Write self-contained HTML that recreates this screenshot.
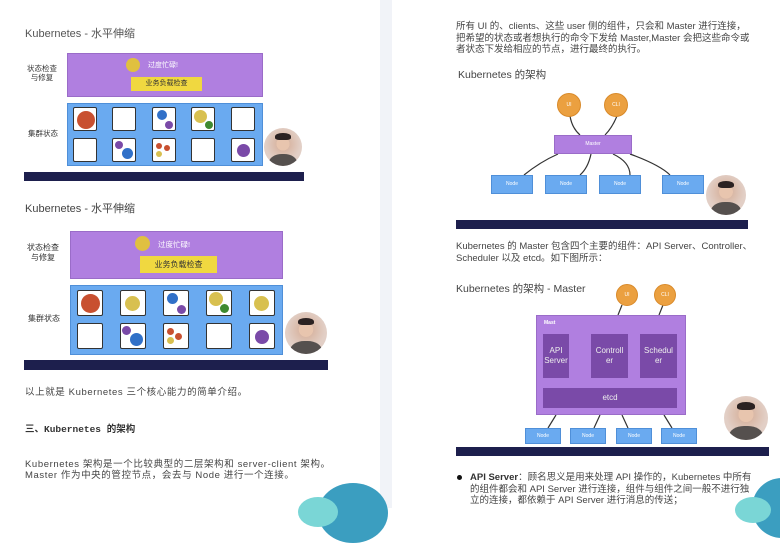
<!DOCTYPE html>
<html><head><meta charset="utf-8"><style>
*{margin:0;padding:0;box-sizing:border-box}
body{width:780px;height:508px;position:relative;overflow:hidden;background:#fff;font-family:"Liberation Sans","Noto Sans CJK SC",sans-serif;color:#333}
.a{position:absolute}
.t{position:absolute;white-space:nowrap}
.pur{background:#b07fe0;border:1px solid #9a6cc8}
.blu{background:#6aaaf0;border:1px solid #4f8fd8}
.cell{position:absolute;background:#fff;border:1.5px solid #333;border-radius:2px}
.dot{position:absolute;border-radius:50%}
.bar{position:absolute;background:#1d1f4d}
.face{position:absolute;border-radius:50%;background:radial-gradient(circle at 50% 42%,#e8c5ae 0 22%,#d9b8a6 23%,#e2cfc6 60%);overflow:hidden}
.face::before{content:"";position:absolute;left:30%;top:14%;width:40%;height:18%;background:#2b2222;border-radius:50% 50% 30% 30%}
.face::after{content:"";position:absolute;left:12%;top:68%;width:76%;height:50%;background:#55504e;border-radius:45% 45% 0 0}
.nd{position:absolute;background:#6aaaf0;border:1px solid #4f8fd8;color:#fff;font-size:5px;text-align:center}
.orb{position:absolute;border-radius:50%;background:#eba040;border:1px solid #d98a2a;color:#fff;font-size:5px;text-align:center}
.p{font-size:9.5px;color:#444;letter-spacing:0.6px}
.q{font-size:9.5px;color:#444;letter-spacing:0}
</style></head><body>
<div class="a" style="left:380px;top:0;width:12px;height:508px;background:#f1f3f8"></div>

<!-- Left slide 1 -->
<div class="t" style="left:25px;top:25px;font-size:11px;color:#555">Kubernetes - 水平伸缩</div>
<div class="t" style="left:27px;top:64px;font-size:7.5px;line-height:9px;text-align:center;color:#333">状态检查<br>与修复</div>
<div class="a pur" style="left:67px;top:53px;width:196px;height:44px"></div>
<div class="dot" style="left:126px;top:58px;width:14px;height:14px;background:#e0c040"></div>
<div class="t" style="left:148px;top:60px;font-size:7px;color:#fff">过度忙碌!</div>
<div class="a" style="left:131px;top:77px;width:71px;height:14px;background:#f0d840;font-size:7px;color:#333;text-align:center;line-height:14px">业务负载检查</div>
<div class="t" style="left:28px;top:128px;font-size:7.5px">集群状态</div>
<div class="a blu" style="left:67px;top:103px;width:196px;height:63px"></div>
<div class="cell" style="left:73px;top:107px;width:24px;height:24px"></div>
<div class="cell" style="left:112px;top:107px;width:24px;height:24px"></div>
<div class="cell" style="left:152px;top:107px;width:24px;height:24px"></div>
<div class="cell" style="left:191px;top:107px;width:24px;height:24px"></div>
<div class="cell" style="left:231px;top:107px;width:24px;height:24px"></div>
<div class="cell" style="left:73px;top:138px;width:24px;height:24px"></div>
<div class="cell" style="left:112px;top:138px;width:24px;height:24px"></div>
<div class="cell" style="left:152px;top:138px;width:24px;height:24px"></div>
<div class="cell" style="left:191px;top:138px;width:24px;height:24px"></div>
<div class="cell" style="left:231px;top:138px;width:24px;height:24px"></div>
<div class="dot" style="left:77px;top:111px;width:18px;height:18px;background:#c85030"></div>
<div class="dot" style="left:157px;top:110px;width:10px;height:10px;background:#3070c8"></div>
<div class="dot" style="left:165px;top:121px;width:8px;height:8px;background:#7a4aa8"></div>
<div class="dot" style="left:194px;top:110px;width:13px;height:13px;background:#d8c050"></div>
<div class="dot" style="left:205px;top:121px;width:8px;height:8px;background:#3f8a30"></div>
<div class="dot" style="left:115px;top:141px;width:8px;height:8px;background:#7a4aa8"></div>
<div class="dot" style="left:122px;top:148px;width:11px;height:11px;background:#3070c8"></div>
<div class="dot" style="left:156px;top:143px;width:6px;height:6px;background:#c85030"></div>
<div class="dot" style="left:164px;top:145px;width:6px;height:6px;background:#c85030"></div>
<div class="dot" style="left:156px;top:151px;width:6px;height:6px;background:#d8c050"></div>
<div class="dot" style="left:237px;top:144px;width:13px;height:13px;background:#7a4aa8"></div>
<div class="face" style="left:264px;top:128px;width:38px;height:38px"></div>
<div class="bar" style="left:24px;top:172px;width:280px;height:9px"></div>

<!-- Left slide 2 -->
<div class="t" style="left:25px;top:200px;font-size:11px;color:#444">Kubernetes - 水平伸缩</div>
<div class="t" style="left:27px;top:243px;font-size:8px;line-height:10px;text-align:center">状态检查<br>与修复</div>
<div class="a pur" style="left:70px;top:231px;width:213px;height:48px"></div>
<div class="dot" style="left:135px;top:236px;width:15px;height:15px;background:#e0c040"></div>
<div class="t" style="left:158px;top:239px;font-size:7.5px;color:#fff">过度忙碌!</div>
<div class="a" style="left:140px;top:256px;width:77px;height:17px;background:#f0d840;font-size:8px;color:#333;text-align:center;line-height:17px">业务负载检查</div>
<div class="t" style="left:28px;top:313px;font-size:8px">集群状态</div>
<div class="a blu" style="left:70px;top:285px;width:213px;height:70px"></div>
<div class="cell" style="left:77px;top:290px;width:26px;height:26px"></div>
<div class="cell" style="left:120px;top:290px;width:26px;height:26px"></div>
<div class="cell" style="left:163px;top:290px;width:26px;height:26px"></div>
<div class="cell" style="left:206px;top:290px;width:26px;height:26px"></div>
<div class="cell" style="left:249px;top:290px;width:26px;height:26px"></div>
<div class="cell" style="left:77px;top:323px;width:26px;height:26px"></div>
<div class="cell" style="left:120px;top:323px;width:26px;height:26px"></div>
<div class="cell" style="left:163px;top:323px;width:26px;height:26px"></div>
<div class="cell" style="left:206px;top:323px;width:26px;height:26px"></div>
<div class="cell" style="left:249px;top:323px;width:26px;height:26px"></div>
<div class="dot" style="left:81px;top:294px;width:19px;height:19px;background:#c85030"></div>
<div class="dot" style="left:125px;top:296px;width:15px;height:15px;background:#d8c050"></div>
<div class="dot" style="left:167px;top:293px;width:11px;height:11px;background:#3070c8"></div>
<div class="dot" style="left:177px;top:305px;width:9px;height:9px;background:#7a4aa8"></div>
<div class="dot" style="left:209px;top:292px;width:14px;height:14px;background:#d8c050"></div>
<div class="dot" style="left:220px;top:304px;width:9px;height:9px;background:#3f8a30"></div>
<div class="dot" style="left:254px;top:296px;width:15px;height:15px;background:#d8c050"></div>
<div class="dot" style="left:122px;top:326px;width:9px;height:9px;background:#7a4aa8"></div>
<div class="dot" style="left:130px;top:333px;width:13px;height:13px;background:#3070c8"></div>
<div class="dot" style="left:167px;top:328px;width:7px;height:7px;background:#c85030"></div>
<div class="dot" style="left:175px;top:333px;width:7px;height:7px;background:#c85030"></div>
<div class="dot" style="left:167px;top:337px;width:7px;height:7px;background:#d8c050"></div>
<div class="dot" style="left:255px;top:330px;width:14px;height:14px;background:#7a4aa8"></div>
<div class="face" style="left:285px;top:312px;width:42px;height:42px"></div>
<div class="bar" style="left:24px;top:360px;width:304px;height:10px"></div>

<div class="t p" style="left:25px;top:384px">以上就是 Kubernetes 三个核心能力的简单介绍。</div>
<div class="t" style="left:25px;top:421px;font-size:9.5px;font-weight:bold;font-family:'Liberation Mono','Noto Sans CJK SC',monospace;color:#333">三、Kubernetes  的架构</div>
<div class="t p" style="left:25px;top:459px;line-height:11px">Kubernetes 架构是一个比较典型的二层架构和 server-client 架构。<br>Master 作为中央的管控节点，会去与 Node 进行一个连接。</div>
<div class="a" style="left:318px;top:483px;width:70px;height:60px;border-radius:50%;background:#3b9ec0"></div>
<div class="a" style="left:298px;top:497px;width:40px;height:30px;border-radius:50%;background:#7ad6d6"></div>

<!-- Right page -->
<div class="t q" style="left:456px;top:21px;line-height:11.5px">所有 UI 的、clients、这些 user 侧的组件，只会和 Master 进行连接，<br>把希望的状态或者想执行的命令下发给 Master,Master 会把这些命令或<br>者状态下发给相应的节点，进行最终的执行。</div>
<div class="t" style="left:458px;top:67px;font-size:10.5px;color:#444">Kubernetes 的架构</div>
<svg class="a" style="left:0;top:0" width="780" height="508">
<g fill="none" stroke="#333" stroke-width="1.2">
<path d="M570 116 Q572 128 580 135"/><path d="M617 116 Q612 128 605 135"/>
<path d="M558 154 Q540 162 524 175"/><path d="M591 154 Q588 168 580 175"/>
<path d="M613 154 Q630 162 630 175"/><path d="M630 154 Q660 165 670 175"/>
<path d="M622 305 L618 315"/><path d="M663 305 L659 315"/>
<path d="M556 415 L548 428"/><path d="M600 415 L594 428"/><path d="M622 415 L628 428"/><path d="M664 415 L672 428"/>
</g></svg>
<div class="orb" style="left:557px;top:93px;width:24px;height:24px;line-height:22px">UI</div>
<div class="orb" style="left:604px;top:93px;width:24px;height:24px;line-height:22px">CLI</div>
<div class="a" style="left:554px;top:135px;width:78px;height:19px;background:#b07fe0;border:1px solid #9a6cc8;color:#fff;font-size:5px;text-align:center;line-height:17px">Master</div>
<div class="nd" style="left:491px;top:175px;width:42px;height:19px;line-height:17px">Node</div>
<div class="nd" style="left:545px;top:175px;width:42px;height:19px;line-height:17px">Node</div>
<div class="nd" style="left:599px;top:175px;width:42px;height:19px;line-height:17px">Node</div>
<div class="nd" style="left:662px;top:175px;width:42px;height:19px;line-height:17px">Node</div>
<div class="face" style="left:706px;top:175px;width:40px;height:40px"></div>
<div class="bar" style="left:456px;top:220px;width:292px;height:9px"></div>

<div class="t q" style="left:456px;top:241px;line-height:11.5px">Kubernetes 的 Master 包含四个主要的组件：API Server、Controller、<br>Scheduler 以及 etcd。如下图所示：</div>
<div class="t" style="left:456px;top:281px;font-size:10.5px;color:#444">Kubernetes 的架构 - Master</div>
<div class="orb" style="left:616px;top:284px;width:22px;height:22px;line-height:20px">UI</div>
<div class="orb" style="left:654px;top:284px;width:22px;height:22px;line-height:20px">CLI</div>
<div class="a" style="left:536px;top:315px;width:150px;height:100px;background:#b07fe0;border:1px solid #9a6cc8"></div>
<div class="t" style="left:544px;top:320px;font-size:5px;color:#fff;font-weight:bold">Mast</div>
<div class="a" style="left:543px;top:334px;width:26px;height:44px;background:#7a4aa8;color:#eee;font-size:8px;line-height:10px;text-align:center;padding-top:12px">API<br>Server</div>
<div class="a" style="left:591px;top:334px;width:37px;height:44px;background:#7a4aa8;color:#eee;font-size:8px;line-height:10px;text-align:center;padding-top:12px">Controll<br>er</div>
<div class="a" style="left:640px;top:334px;width:37px;height:44px;background:#7a4aa8;color:#eee;font-size:8px;line-height:10px;text-align:center;padding-top:12px">Schedul<br>er</div>
<div class="a" style="left:543px;top:388px;width:134px;height:20px;background:#7a4aa8;color:#eee;font-size:8px;line-height:20px;text-align:center">etcd</div>
<div class="nd" style="left:525px;top:428px;width:36px;height:16px;line-height:14px">Node</div>
<div class="nd" style="left:570px;top:428px;width:36px;height:16px;line-height:14px">Node</div>
<div class="nd" style="left:616px;top:428px;width:36px;height:16px;line-height:14px">Node</div>
<div class="nd" style="left:661px;top:428px;width:36px;height:16px;line-height:14px">Node</div>
<div class="face" style="left:724px;top:396px;width:44px;height:44px"></div>
<div class="bar" style="left:456px;top:447px;width:313px;height:9px"></div>
<div class="dot" style="left:457px;top:475px;width:5px;height:5px;background:#111"></div>
<div class="t q" style="left:470px;top:472px;line-height:11.5px"><b style="color:#333">API Server</b>：顾名思义是用来处理 API 操作的，Kubernetes 中所有<br>的组件都会和 API Server 进行连接，组件与组件之间一般不进行独<br>立的连接，都依赖于 API Server 进行消息的传送；</div>
<div class="a" style="left:752px;top:478px;width:60px;height:60px;border-radius:50%;background:#3b9ec0"></div>
<div class="a" style="left:735px;top:497px;width:36px;height:26px;border-radius:50%;background:#7ad6d6"></div>
</body></html>
